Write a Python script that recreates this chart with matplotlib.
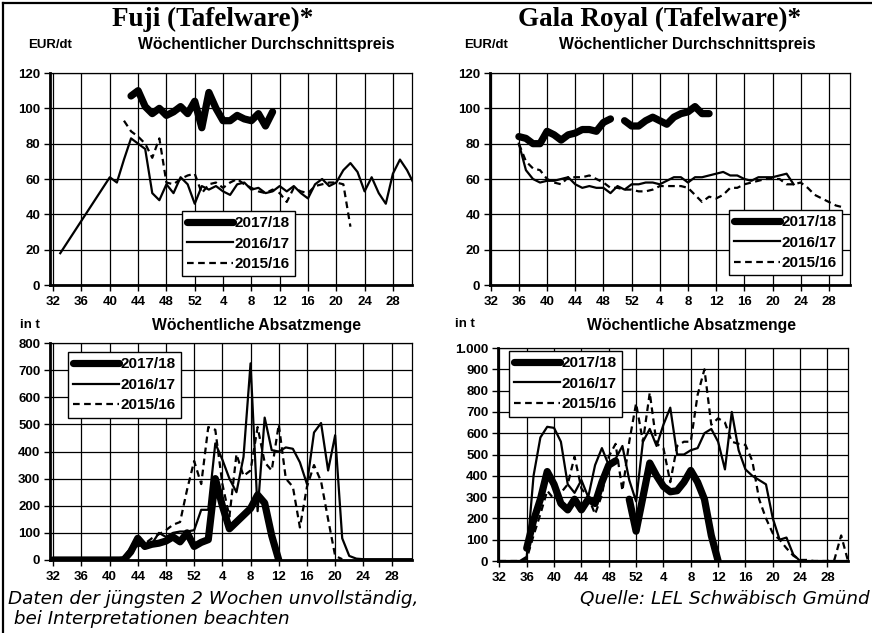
import matplotlib
matplotlib.use("Agg")
import matplotlib.pyplot as plt
import numpy as np
from matplotlib.ticker import FuncFormatter, MultipleLocator
from matplotlib.lines import Line2D

# Wochen 32..52, dann 1..31 (Index 0..51)
week_labels = list(range(32, 53)) + list(range(1, 32))
tick_pos = list(range(0, 49, 4))

N = None
seasons = ["2017/18", "2016/17", "2015/16"]

# Fuji - Preis EUR/dt
fuji_price_1718 = [N] * 11 + [107, 110, 101, 97, 100, 96, 98, 101, 97, 104, 89, 109, 100, 93, 93,
                              96, 94, 93, 97, 90, 98] + [N] * 20
fuji_price_1617 = [N, 18, N, N, N, N, N, N, 61, 58, 71, 83, 80, 77, 52, 48, 57, 52, 61, 57, 46,
                   56, 54, 56, 53, 51, 57, 58, 54, 55, 52, 53, 56, 53, 56, 52, 49, 57, 60, 56,
                   58, 65, 69, 64, 53, 61, 52, 46, 63, 71, 65, 57]
fuji_price_1516 = [N] * 10 + [93, 87, 84, 80, 72, 83, 58, 57, 60, 62, 63, 52, 57, 58, 55, 58, 60,
                              57, 55, 53, 52, 54, 52, 47, 55, 53, 52, 56, 57, 58, 58, 57, 33] + [N] * 9

# Gala Royal - Preis EUR/dt
gala_price_1718 = [N] * 4 + [84, 83, 80, 80, 87, 85, 82, 85, 86, 88, 88, 87, 92, 94, N, 93, 90, 90,
                             93, 95, 93, 91, 95, 97, 98, 101, 97, 97] + [N] * 20
gala_price_1617 = [N] * 4 + [80, 65, 60, 58, 59, 59, 60, 61, 57, 55, 56, 55, 55, 52, 56, 54, 57, 57,
                             58, 58, 57, 59, 61, 61, 58, 61, 61, 62, 63, 64, 62, 62, 60, 59, 61,
                             61, 61, 62, 63, 57] + [N] * 8
gala_price_1516 = [N] * 4 + [80, 70, 66, 65, 60, 58, 57, 61, 61, 61, 62, 60, 58, 55, 55, 54, 54, 53,
                             53, 54, 56, 56, 56, 56, 55, 51, 47, 50, 49, 51, 55, 55, 57, 58, 59,
                             60, 60, 60, 57, 57, 58, 55, 51, 49, 47, 45, 44] + [N]

# Fuji - Absatzmenge t
fuji_qty_1718 = [0] * 11 + [30, 80, 50, 58, 62, 70, 85, 67, 100, 50, 65, 75, 300, 200, 115, 140,
                            165, 190, 240, 210, 90, 0] + [N] * 19
fuji_qty_1617 = [5] * 10 + [10, 45, 65, 45, 60, 100, 85, 100, 105, 105, 110, 185, 185, 430, 370,
                            300, 250, 380, 725, 180, 525, 405, 400, 415, 410, 360, 280, 470, 505,
                            330, 460, 80, 15, 5] + [3] * 8
fuji_qty_1516 = [0] * 10 + [5, 35, 50, 60, 80, 95, 110, 130, 140, 260, 365, 280, 490, 480, 280,
                            160, 390, 310, 330, 490, 360, 330, 500, 300, 270, 120, 270, 350, 290,
                            150, 15, 3] + [N] * 10

# Gala Royal - Absatzmenge t
gala_qty_1718 = [N] * 4 + [60, 190, 290, 420, 360, 270, 240, 290, 240, 290, 270, 370, 450, 470, N,
                           290, 140, 300, 460, 400, 350, 325, 330, 370, 425, 370, 290, 120, 0] + [N] * 19
gala_qty_1617 = [0] * 4 + [20, 400, 580, 630, 625, 560, 360, 320, 380, 300, 450, 530, 450, 480, 540,
                           380, 280, 560, 620, 540, 640, 720, 500, 500, 520, 530, 600, 620, 560,
                           430, 700, 520, 430, 400, 380, 360, 200, 100, 110, 30] + [0] * 8
gala_qty_1516 = [0] * 4 + [10, 120, 220, 330, 290, 320, 360, 490, 340, 300, 220, 310, 490, 550, 330,
                           560, 740, 560, 790, 550, 530, 370, 540, 560, 560, 780, 900, 640, 670,
                           650, 560, 550, 545, 470, 290, 200, 130, 100, 60, 25, 5, 5, 0, 0, 0, 5,
                           120, 0]

styles = [dict(lw=5.2, ls="-", solid_capstyle="round"),
          dict(lw=1.6, ls="-"),
          dict(lw=1.6, ls=(0, (3, 2)))]

W, H = 872, 633
fig = plt.figure(figsize=(W / 100, H / 100), dpi=100)
fig.patch.set_facecolor("white")


def box(l, t, r, b):
    return [l / W, 1 - b / H, (r - l) / W, (b - t) / H]


def draw_series(ax, values, style, label, connect=True):
    x = np.arange(len(values))
    y = np.array([np.nan if v is None else v for v in values], dtype=float)
    if connect:
        ok = ~np.isnan(y)
        x, y = x[ok], y[ok]
    ax.plot(x, y, color="black", label=label, solid_joinstyle="round", **style)


def setup(ax, ymax, ystep, xlim, legend_at, fmt=None):
    ax.set_xlim(*xlim)
    ax.set_ylim(0, ymax)
    ax.set_xticks(tick_pos)
    ax.set_xticklabels([str(week_labels[i]) for i in tick_pos])
    ax.yaxis.set_major_locator(MultipleLocator(ystep))
    if fmt:
        ax.yaxis.set_major_formatter(FuncFormatter(fmt))
    ax.grid(True, color="black", lw=0.9)
    ax.set_axisbelow(True)
    for lab in ax.get_xticklabels() + ax.get_yticklabels():
        lab.set_fontweight("bold")
        lab.set_fontsize(9.5)
        lab.set_family("Liberation Sans")
    ax.tick_params(axis="x", direction="out", length=4, width=1, pad=4)
    ax.tick_params(axis="y", direction="out", length=4, width=1, pad=3)
    ax.spines["left"].set_linewidth(2)
    ax.spines["bottom"].set_linewidth(2)
    ax.spines["top"].set_linewidth(0.9)
    ax.spines["right"].set_linewidth(0.9)
    leg = ax.legend(loc="upper left", bbox_to_anchor=legend_at, borderaxespad=0,
                    fancybox=False, edgecolor="black", framealpha=1, handlelength=3.0,
                    labelspacing=0.42, borderpad=0.35, handletextpad=0.1,
                    prop=dict(family="Liberation Sans", weight="bold", size=11))
    leg.get_frame().set_linewidth(1.0)


def thousands(v, pos):
    return "{:,.0f}".format(v).replace(",", ".")


ax1 = fig.add_axes(box(50, 73, 412, 285))
ax2 = fig.add_axes(box(490, 73, 850, 285))
ax3 = fig.add_axes(box(50, 343, 412, 560))
ax4 = fig.add_axes(box(498, 348, 848, 561))

for ax, data, conn in [(ax1, [fuji_price_1718, fuji_price_1617, fuji_price_1516], [True] * 3),
                       (ax2, [gala_price_1718, gala_price_1617, gala_price_1516], [False, True, True]),
                       (ax3, [fuji_qty_1718, fuji_qty_1617, fuji_qty_1516], [True] * 3),
                       (ax4, [gala_qty_1718, gala_qty_1617, gala_qty_1516], [False, True, True])]:
    for vals, st, lab, c in zip(data, styles, seasons, conn):
        draw_series(ax, vals, st, lab, connect=c)

setup(ax1, 120, 20, (-0.45, 50.7), (0.365, 0.35))
setup(ax2, 120, 20, (-0.1, 51.0), (0.664, 0.354))
setup(ax3, 800, 100, (-0.45, 50.9), (0.05, 0.958))
setup(ax4, 1000, 100, (-0.2, 51.0), (0.031, 0.986), fmt=thousands)

# Titel und Beschriftungen
title_kw = dict(family="Liberation Serif", weight="bold", size=19.5, ha="center", va="center")
fig.text(213 / W, 1 - 19 / H, "Fuji (Tafelware)*", **title_kw)
fig.text(660 / W, 1 - 19 / H, "Gala Royal (Tafelware)*", **title_kw)

lab_kw = dict(family="Liberation Sans", weight="bold", size=9.5, va="center")
sub_kw = dict(family="Liberation Sans", weight="bold", size=11.3, va="center")
fig.text(50 / W, 1 - 45 / H, "EUR/dt", ha="center", **lab_kw)
fig.text(266 / W, 1 - 45 / H, "Wöchentlicher Durchschnittspreis", ha="center", **sub_kw)
fig.text(486 / W, 1 - 45 / H, "EUR/dt", ha="center", **lab_kw)
fig.text(687 / W, 1 - 45 / H, "Wöchentlicher Durchschnittspreis", ha="center", **sub_kw)
fig.text(30 / W, 1 - 325 / H, "in t", ha="center", **lab_kw)
fig.text(257 / W, 1 - 326 / H, "Wöchentliche Absatzmenge", ha="center", **sub_kw)
fig.text(465 / W, 1 - 324 / H, "in t", ha="center", **lab_kw)
fig.text(691 / W, 1 - 326 / H, "Wöchentliche Absatzmenge", ha="center", **sub_kw)

note_kw = dict(family="DejaVu Sans", style="italic", size=13.2, va="center")
fig.text(8 / W, 1 - 599 / H, "Daten der jüngsten 2 Wochen unvollständig,", ha="left", **note_kw)
fig.text(8 / W, 1 - 619 / H, " bei Interpretationen beachten", ha="left", **note_kw)
fig.text(870 / W, 1 - 599 / H, "Quelle: LEL Schwäbisch Gmünd", ha="right", **note_kw)

# Rahmen links und oben
fig.add_artist(Line2D([3 / W, 3 / W], [0, 1 - 3 / H], color="black", lw=1.6))
fig.add_artist(Line2D([3 / W, 1], [1 - 3 / H, 1 - 3 / H], color="black", lw=1.6))

fig.savefig("out.png", dpi=100)
